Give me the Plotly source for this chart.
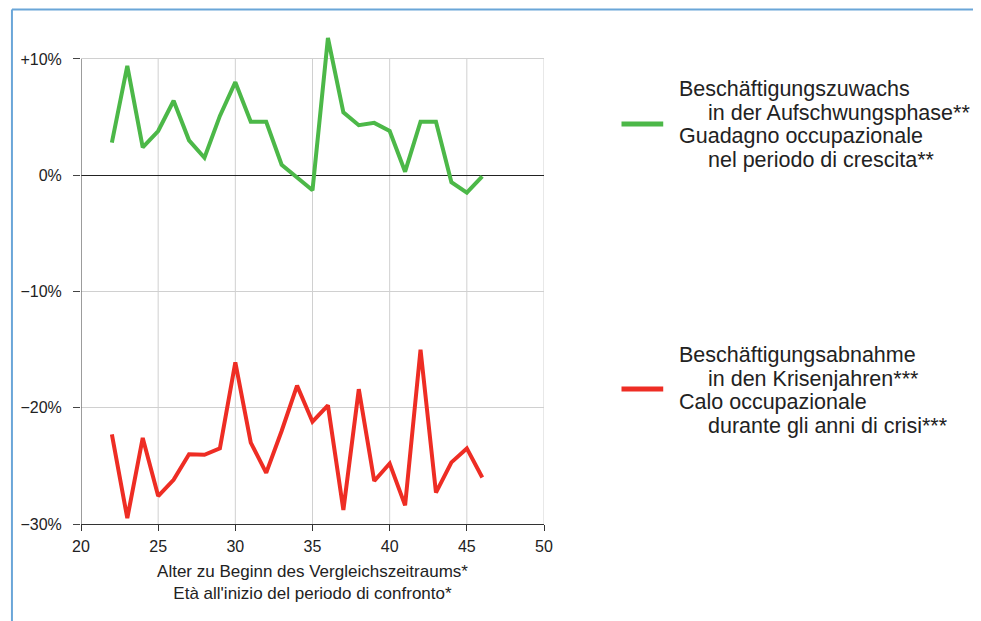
import plotly.graph_objects as go

# Alter zu Beginn des Vergleichszeitraums
alter = list(range(22, 47))

# Beschäftigungszuwachs in der Aufschwungsphase (%)
zuwachs = [2.8, 9.4, 2.4, 3.8, 6.4, 3.0, 1.5, 5.1, 8.0, 4.6, 4.6, 0.9, -0.2,
           -1.3, 11.8, 5.4, 4.3, 4.5, 3.8, 0.3, 4.6, 4.6, -0.6, -1.5, -0.1]

# Beschäftigungsabnahme in den Krisenjahren (%)
abnahme = [-22.3, -29.5, -22.6, -27.6, -26.2, -24.0, -24.05, -23.5, -16.1, -23.0,
           -25.6, -22.0, -18.1, -21.2, -19.8, -28.8, -18.4, -26.3, -24.8, -28.4,
           -15.0, -27.3, -24.7, -23.5, -26.0]

y_ticks = [-30, -20, -10, 0, 10]
y_labels = ["\u221230%", "\u221220%", "\u221210%", "0%", "+10%"]
x_ticks = [20, 25, 30, 35, 40, 45, 50]

legende_gruen = ["Beschäftigungszuwachs", "in der Aufschwungsphase**",
                 "Guadagno occupazionale", "nel periodo di crescita**"]
legende_rot = ["Beschäftigungsabnahme", "in den Krisenjahren***",
               "Calo occupazionale", "durante gli anni di crisi***"]

GREEN = "#4cb848"
RED = "#ee2d24"
GRID = "#d0d0d0"
FRAME = "#6aa6d8"
FONT = "Liberation Sans, Arial, sans-serif"

# Seite hat 8px Rand -> Figur etwas kleiner
W, H = 973, 613
L, R, T, B = 70, 437, 20, 97
PW, PH = W - L - R, H - T - B


def px(x_page):
    return (x_page - 8 - L) / PW


def py(y_page):
    return (H - B - (y_page - 8)) / PH


fig = go.Figure()

# vertikale Gitterlinien nur bis +10%
for xv in x_ticks[1:]:
    fig.add_shape(type="line", xref="x", yref="y", x0=xv, x1=xv, y0=-30, y1=10,
                  line=dict(color=GRID, width=1), layer="below")
fig.add_shape(type="line", xref="x", yref="y", x0=20, x1=20, y0=-30, y1=10,
              line=dict(color="#666666", width=1.3), layer="above")

fig.add_trace(go.Scatter(x=alter, y=zuwachs, mode="lines",
                         line=dict(color=GREEN, width=4),
                         showlegend=False, hoverinfo="x+y"))
fig.add_trace(go.Scatter(x=alter, y=abnahme, mode="lines",
                         line=dict(color=RED, width=4),
                         showlegend=False, hoverinfo="x+y"))

fig.update_xaxes(range=[20, 50], tickvals=x_ticks, showgrid=False,
                 showline=True, linecolor="#333333", linewidth=1,
                 ticks="outside", ticklen=6, tickcolor="#333333",
                 ticklabelstandoff=2,
                 tickfont=dict(size=16, color="#222222", family=FONT),
                 zeroline=False,
                 title=dict(text="Alter zu Beginn des Vergleichszeitraums*<br>"
                                 "Età all'inizio del periodo di confronto*",
                            font=dict(size=17, color="#222222", family=FONT),
                            standoff=10))
fig.update_yaxes(range=[-30, 12.66], tickvals=y_ticks, ticktext=y_labels,
                 showgrid=True, gridcolor=GRID, gridwidth=1,
                 zeroline=True, zerolinecolor="#222222", zerolinewidth=1,
                 showline=False, ticks="outside", ticklen=7, tickcolor="#444444",
                 ticklabelstandoff=8,
                 tickfont=dict(size=16, color="#222222", family=FONT))

# Legende: Linie + vier Textzeilen
for color, y_line, y_text, lines in [
    (GREEN, 124, [89, 112.5, 136, 159.5], legende_gruen),
    (RED, 389, [355, 378.5, 402, 425.5], legende_rot),
]:
    fig.add_shape(type="line", xref="paper", yref="paper",
                  x0=px(622), x1=px(664), y0=py(y_line), y1=py(y_line),
                  line=dict(color=color, width=5))
    for i, (txt, yt) in enumerate(zip(lines, y_text)):
        fig.add_annotation(xref="paper", yref="paper",
                           x=px(678 if i % 2 == 0 else 707), y=py(yt),
                           xanchor="left", yanchor="middle",
                           showarrow=False, text=txt,
                           font=dict(size=21.5, color="#222222", family=FONT))

# Rahmen oben und links
fig.add_shape(type="line", xref="paper", yref="paper",
              x0=px(8.5), x1=px(1000), y0=py(9.5), y1=py(9.5),
              line=dict(color=FRAME, width=2))
fig.add_shape(type="line", xref="paper", yref="paper",
              x0=px(8.5), x1=px(8.5), y0=py(9.5), y1=py(700),
              line=dict(color=FRAME, width=2))

fig.update_layout(width=W, height=H, paper_bgcolor="white", plot_bgcolor="white",
                  margin=dict(l=L, r=R, t=T, b=B),
                  font=dict(family=FONT))

fig.write_html("out.html")
